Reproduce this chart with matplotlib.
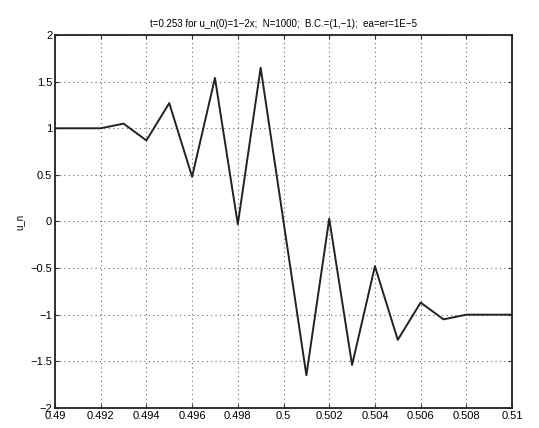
import numpy as np
import matplotlib
matplotlib.use("Agg")
import matplotlib.pyplot as plt

# grid points x_i and solution values u_n
x = [0.490, 0.491, 0.492, 0.493, 0.494, 0.495, 0.496, 0.497, 0.498, 0.499, 0.500,
     0.501, 0.502, 0.503, 0.504, 0.505, 0.506, 0.507, 0.508, 0.509, 0.510]
u = [1.0, 1.0, 1.0, 1.05, 0.87, 1.27, 0.48, 1.54, -0.03, 1.65, 0.0,
     -1.65, 0.03, -1.54, -0.48, -1.27, -0.87, -1.05, -1.0, -1.0, -1.0]

xticks = [0.49, 0.492, 0.494, 0.496, 0.498, 0.5, 0.502, 0.504, 0.506, 0.508, 0.51]
xticklabels = ["0.49", "0.492", "0.494", "0.496", "0.498", "0.5", "0.502", "0.504", "0.506", "0.508", "0.51"]
yticks = [-2, -1.5, -1, -0.5, 0, 0.5, 1, 1.5, 2]
yticklabels = ["-2", "-1.5", "-1", "-0.5", "0", "0.5", "1", "1.5", "2"]

plt.rcParams['font.family'] = ['Liberation Sans', 'DejaVu Sans']

fig = plt.figure(figsize=(5.39, 4.28), dpi=100)
ax = fig.add_axes([0.102, 0.047, 0.848, 0.871])

ax.plot(x, u, color='#222222', lw=1.4)

ax.set_xlim(0.49, 0.51)
ax.set_ylim(-2, 2)
ax.set_xticks(xticks)
ax.set_xticklabels(xticklabels, fontsize=8)
ax.set_yticks(yticks)
ax.set_yticklabels([t.replace('-', '\u2212') for t in yticklabels], fontsize=8)
ax.tick_params(direction='in', top=True, right=True, length=3, pad=2, color='#333333')
ax.grid(True, color='#666666', linestyle=(0, (1, 3)), lw=0.8)
for s in ax.spines.values():
    s.set_linewidth(1.3)
    s.set_color('#222222')

ax.set_title("t=0.253 for u_n(0)=1\u22122x;  N=1000;  B.C.=(1,\u22121);  ea=er=1E\u22125",
             fontsize=7, pad=6)
ax.set_ylabel("u_n", fontsize=7, labelpad=4)

fig.savefig("out.png", dpi=100)
